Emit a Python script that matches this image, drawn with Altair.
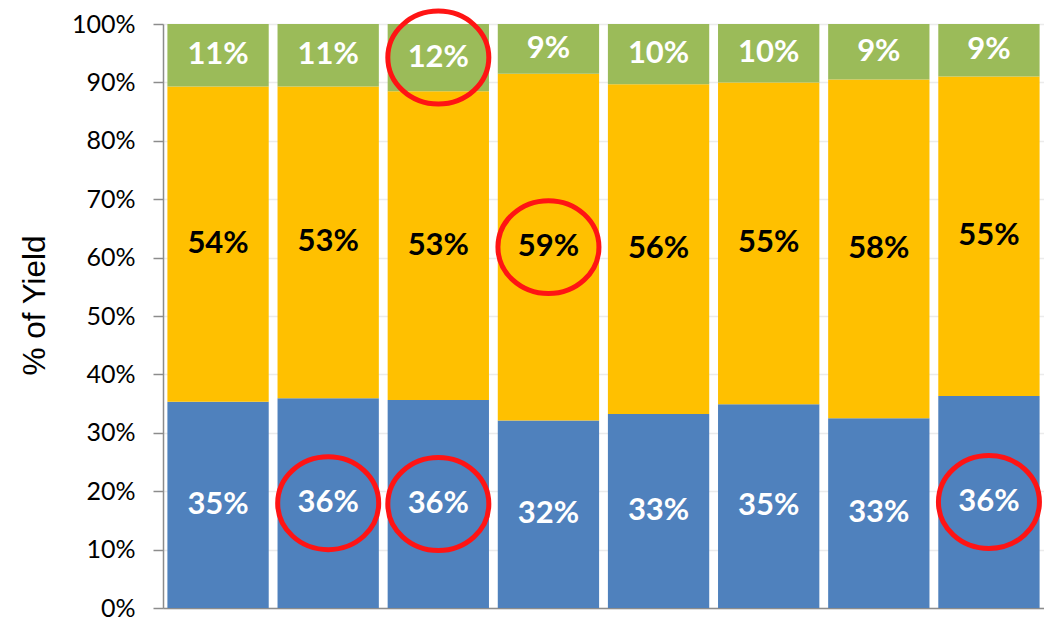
import altair as alt
import pandas as pd

# ---- data ----
bars = ["B1", "B2", "B3", "B4", "B5", "B6", "B7", "B8"]
blue = [35.3, 35.9, 35.6, 32.1, 33.2, 34.9, 32.5, 36.3]
orange = [54.0, 53.4, 52.9, 59.4, 56.5, 55.1, 58.0, 54.7]
green = [10.7, 10.7, 11.5, 8.5, 10.3, 10.0, 9.5, 9.0]

blue_labels = ["35%", "36%", "36%", "32%", "33%", "35%", "33%", "36%"]
orange_labels = ["54%", "53%", "53%", "59%", "56%", "55%", "58%", "55%"]
green_labels = ["11%", "11%", "12%", "9%", "10%", "10%", "9%", "9%"]

# highlighted (circled) labels: (bar index, segment)
circled = [(2, "green"), (3, "orange"), (1, "blue"), (2, "blue"), (7, "blue")]

segments = ["blue", "orange", "green"]
seg_colors = {"blue": "#4F81BD", "orange": "#FFC000", "green": "#9BBB59"}
text_colors = {"blue": "#FFFFFF", "orange": "#000000", "green": "#FFFFFF"}

rows = []
for i, b in enumerate(bars):
    start = 0.0
    vals = {"blue": blue[i], "orange": orange[i], "green": green[i]}
    labs = {"blue": blue_labels[i], "orange": orange_labels[i], "green": green_labels[i]}
    for s in segments:
        end = start + vals[s]
        rows.append({
            "bar": b, "segment": s, "start": start, "end": end,
            "mid": (start + end) / 2, "label": labs[s],
            "fill": seg_colors[s], "tcolor": text_colors[s],
            "circled": (i, s) in circled,
        })
        start = end
df = pd.DataFrame(rows)

xenc = alt.X("bar:N", sort=bars,
             scale=alt.Scale(paddingInner=0.08, paddingOuter=0.04),
             axis=alt.Axis(labels=False, ticks=False, title=None,
                           domainColor="#8C8C8C", domainWidth=1.5, grid=False))

base = alt.Chart(df)

bar_layer = base.mark_bar(stroke=None).encode(
    x=xenc,
    y=alt.Y("start:Q", scale=alt.Scale(domain=[0, 100], nice=False),
            axis=alt.Axis(values=list(range(0, 101, 10)),
                          labelExpr="datum.value + '%'",
                          title="% of Yield", titleFont="Liberation Sans",
                          titleFontSize=31.5, titleFontWeight="normal",
                          titleColor="#000000", titleAngle=-90,
                          titleAlign="center", titleBaseline="middle",
                          titleX=-128, titleY=281,
                          labelFont="Lato", labelFontSize=25,
                          labelColor="#000000", labelPadding=18,
                          tickSize=10, tickColor="#8C8C8C", tickWidth=1.5,
                          domainColor="#8C8C8C", domainWidth=1.5,
                          grid=True, gridColor="#EBEBEB", gridWidth=1.5)),
    y2="end:Q",
    color=alt.Color("fill:N", scale=None),
)

text_layer = base.mark_text(font="Lato", fontSize=31, fontWeight="bold",
                            baseline="middle", align="center").encode(
    x=alt.X("bar:N", sort=bars),
    y=alt.Y("mid:Q"),
    text="label:N",
    color=alt.Color("tcolor:N", scale=None),
)

ellipse = "M -1 0 A 1 0.92 0 1 0 1 0 A 1 0.92 0 1 0 -1 0 Z"
circle_layer = base.transform_filter("datum.circled").mark_point(
    shape=ellipse, filled=False, stroke="#FF1414", strokeWidth=5,
    size=101 * 101, opacity=1).encode(
    x=alt.X("bar:N", sort=bars),
    y=alt.Y("mid:Q"),
)

chart = alt.layer(bar_layer, text_layer, circle_layer).properties(
    width=881, height=584,
    autosize=alt.AutoSizeParams(type="none"),
    padding={"left": 155, "top": 16, "right": 0, "bottom": 13},
).configure_view(stroke=None).configure(background="#FFFFFF")

chart.save("out.html", embed_options={"renderer": "svg", "actions": False})
